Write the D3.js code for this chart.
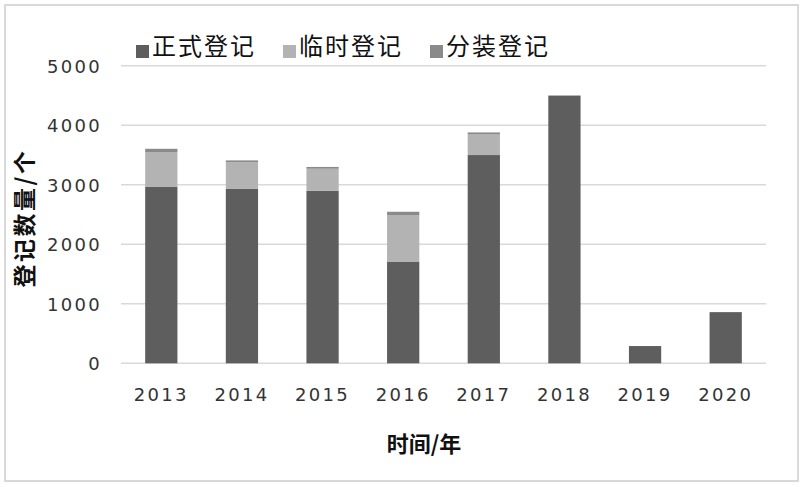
<!DOCTYPE html>
<html><head><meta charset="utf-8">
<script src="https://cdn.jsdelivr.net/npm/d3@7"></script>
<style>body{margin:0;background:#fff}svg{display:block}</style>
</head><body>
<script>
const years = ["2013","2014","2015","2016","2017","2018","2019","2020"];
const seriesNames = ["正式登记","临时登记","分装登记"];
const formal = [2970, 2930, 2900, 1710, 3500, 4500, 290, 860];
const temporary = [580, 450, 370, 775, 345, 0, 0, 0];
const packaging = [55, 30, 30, 62, 35, 0, 0, 0];
const yTicks = [0, 1000, 2000, 3000, 4000, 5000];
const colors = ["#5e5e5e", "#b3b3b3", "#8a8a8a"];

const W = 804, H = 487;
const svg = d3.select("body").append("svg").attr("width", W).attr("height", H);
svg.append("rect").attr("x", 5).attr("y", 5).attr("width", 793).attr("height", 476)
  .attr("fill", "#fff").attr("stroke", "#d9d9d9").attr("stroke-width", 2);

const x = d3.scaleBand().domain(years).range([121, 766]).paddingInner(0.6).paddingOuter(0.3);
const y = d3.scaleLinear().domain([0, 5000]).range([363.3, 65.8]);

// gridlines
svg.append("g").selectAll("line").data(yTicks).join("line")
  .attr("x1", 121).attr("x2", 766).attr("y1", d => y(d)).attr("y2", d => y(d))
  .attr("stroke", "#d9d9d9").attr("stroke-width", 1.5);

const data = years.map((yr, i) => ({year: yr, "正式登记": formal[i], "临时登记": temporary[i], "分装登记": packaging[i]}));
const stacked = d3.stack().keys(seriesNames)(data);

svg.append("g").selectAll("g").data(stacked).join("g")
  .attr("fill", (d, i) => colors[i])
  .selectAll("rect").data(d => d.filter(p => p[1] - p[0] > 0)).join("rect")
  .attr("x", d => x(d.data.year)).attr("width", x.bandwidth())
  .attr("y", d => y(d[1])).attr("height", d => y(d[0]) - y(d[1]));

// y axis labels
const yAxis = d3.axisLeft(y).tickValues(yTicks).tickFormat(d3.format("d")).tickSize(0).tickPadding(0);
const gy = svg.append("g").attr("transform", "translate(102,0)").call(yAxis);
gy.select(".domain").remove();
gy.selectAll("text").attr("font-family", "DejaVu Sans").attr("font-size", 18)
  .attr("letter-spacing", 2.3).attr("fill", "#333").attr("dy", "0.35em");

// x axis labels
const xAxis = d3.axisBottom(x).tickSize(0).tickPadding(0);
const gx = svg.append("g").attr("transform", "translate(0,395)").call(xAxis);
gx.select(".domain").remove();
gx.selectAll("text").attr("font-family", "DejaVu Sans").attr("font-size", 18)
  .attr("letter-spacing", 2.3).attr("fill", "#333").attr("dy", "0.35em");

// axis titles
svg.append("text").attr("transform", "translate(25,218) rotate(-90)")
  .attr("text-anchor", "middle").attr("dy", "0.35em")
  .attr("font-family", "Noto Sans CJK SC").attr("font-weight", "bold").attr("font-size", 23)
  .attr("letter-spacing", 2.5).attr("fill", "#111").text("登记数量/个");
svg.append("text").attr("x", 424).attr("y", 444)
  .attr("text-anchor", "middle").attr("dy", "0.35em")
  .attr("font-family", "Noto Sans CJK SC").attr("font-weight", "bold").attr("font-size", 22)
  .attr("fill", "#111").text("时间/年");

// legend
const legX = [136, 283, 430];
const leg = svg.append("g").selectAll("g").data(seriesNames).join("g")
  .attr("transform", (d, i) => `translate(${legX[i]},0)`);
leg.append("rect").attr("x", 0).attr("y", 45).attr("width", 13).attr("height", 13)
  .attr("fill", (d, i) => colors[i]);
leg.append("text").attr("x", 16).attr("y", 47).attr("dy", "0.35em")
  .attr("font-family", "Noto Sans CJK SC").attr("font-size", 24).attr("letter-spacing", 2)
  .attr("fill", "#111").text(d => d);
</script>
</body></html>
